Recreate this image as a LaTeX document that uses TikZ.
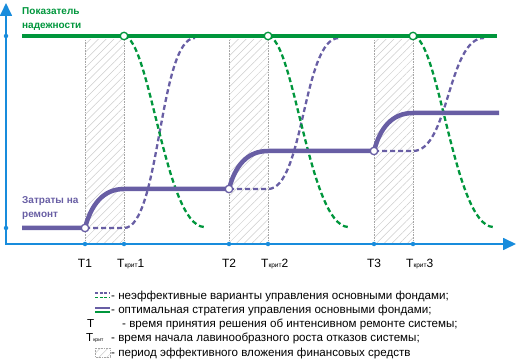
\documentclass[tikz,border=0pt]{standalone}
\usepackage{fontspec}
\setmainfont{Liberation Sans}
\usetikzlibrary{patterns.meta,arrows.meta,positioning}

\definecolor{nadgreen}{RGB}{0,150,60}
\definecolor{zatpurple}{RGB}{104,94,164}
\definecolor{axblue}{RGB}{24,140,220}

\newcommand{\krit}[1][6.5]{T{\fontsize{#1}{#1}\selectfont крит}}

\tikzset{
  axisline/.style={axblue, line width=1.7pt},
  tickdot/.style={circle, fill=axblue, inner sep=0pt, minimum size=4.5pt},
  opendot/.style={circle, draw=#1, fill=white, line width=1.3pt, inner sep=0pt, minimum size=7.5pt},
  optline/.style={line width=4.5pt},
  badline/.style={line width=2.3pt, dash pattern=on 5pt off 3pt},
  hatchbox/.style={pattern={Lines[angle=45,distance=5.5pt,line width=0.5pt]}, pattern color=gray!40},
  border/.style={gray!70, densely dotted, line width=0.6pt},
  ticklabel/.style={font=\fontsize{12}{12}\selectfont, anchor=base, inner sep=0pt},
  legendtext/.style={font=\fontsize{11.6}{13}\selectfont, anchor=base west, inner sep=0pt},
  title/.style={font=\fontsize{10}{11}\selectfont\bfseries, anchor=base west, inner sep=0pt}
}

\begin{document}
\begin{tikzpicture}[x=1pt, y=-1pt]
  \useasboundingbox (0,0) rectangle (516,363);

  % periods of effective investment
  \foreach \t/\k in {85/124, 229/268, 374/413} {
    \fill[hatchbox] (\t,40) rectangle (\k,244);
    \draw[border] (\t,40) -- (\t,244);
    \draw[border] (\k,40) -- (\k,244);
  }

  % axes
  \draw[axisline, {Triangle[length=13pt,width=12pt]}-{Triangle[length=13pt,width=12pt]}]
    (6,3) -- (6,244) -- (516,244);
  \node[tickdot] (y1) at (6,36) {};
  \node[tickdot] (y2) at (6,228) {};

  % ticks and labels
  \foreach \x/\name/\txt in {85/t1/T1, 229/t2/T2, 374/t3/T3} {
    \node[tickdot] (\name) at (\x,244) {};
    \node[ticklabel] at (\x,267) {\txt};
  }
  \foreach \x/\name/\n in {124/k1/1, 268/k2/2, 413/k3/3} {
    \node[tickdot] (\name) at (\x,244) {};
    \node[ticklabel, anchor=base west] at (\x-7,267) {\krit\n};
  }

  % ineffective variants
  \foreach \t/\k/\lo in {85/124/228, 229/268/189, 374/413/151} {
    \draw[zatpurple, badline] (\t,\lo) -- (\k,\lo)
      .. controls (\k+36,\lo) and (\k+35,38) .. (\k+71,38);
    \draw[nadgreen, badline] (\k,36)
      .. controls (\k+26,38) and (\k+41,225) .. (\k+80,227);
  }

  % optimal strategy
  \coordinate (zstart) at (22,228);
  \coordinate (zend) at (499,113);
  \draw[zatpurple, optline] (zstart) -- (85,228)
    .. controls (91,205) and (103,189) .. (124,189) -- (229,189)
    .. controls (235,166) and (247,151) .. (268,151) -- (374,151)
    .. controls (380,128) and (392,113) .. (413,113) -- (zend);
  \coordinate (nstart) at (22,36);
  \coordinate (nend) at (497,36);
  \draw[nadgreen, optline] (nstart) -- (nend);

  \node[opendot=zatpurple] (p1) at (85,228) {};
  \node[opendot=zatpurple] (p2) at (229,189) {};
  \node[opendot=zatpurple] (p3) at (374,151) {};
  \node[opendot=nadgreen] (g1) at (124,36) {};
  \node[opendot=nadgreen] (g2) at (268,36) {};
  \node[opendot=nadgreen] (g3) at (413,36) {};

  % axis titles
  \node[title, nadgreen] (nad1) at (22,15) {Показатель};
  \node[title, nadgreen] (nad2) at (22,28.5) {надежности};
  \node[title, zatpurple] (zat1) at (22,204) {Затраты на};
  \node[title, zatpurple] (zat2) at (22,218) {ремонт};

  % legend
  \draw[zatpurple, line width=1.8pt, dash pattern=on 3pt off 1.5pt] (95,293) -- (110,293);
  \draw[nadgreen, line width=1.8pt, dash pattern=on 3pt off 1.5pt] (95,297.5) -- (110,297.5);
  \draw[zatpurple, line width=2.2pt] (95,308) -- (110,308);
  \draw[nadgreen, line width=2.2pt] (95,312) -- (110,312);
  \node[legendtext] at (87,327) {T};
  \node[legendtext] at (86,341.5) {\krit[5]};
  \fill[hatchbox] (95,348) rectangle (110,357);
  \draw[border] (95,348) rectangle (110,357);

  \node[legendtext] (l1) at (111,299) {- неэффективные варианты управления основными фондами;};
  \node[legendtext] (l2) at (111,313) {- оптимальная стратегия управления основными фондами;};
  \node[legendtext] (l3) at (122,327) {- время принятия решения об интенсивном ремонте системы;};
  \node[legendtext] (l4) at (111,341.5) {- время начала лавинообразного роста отказов системы;};
  \node[legendtext] (l5) at (111,356) {- период эффективного вложения финансовых средств};
\end{tikzpicture}
\end{document}
